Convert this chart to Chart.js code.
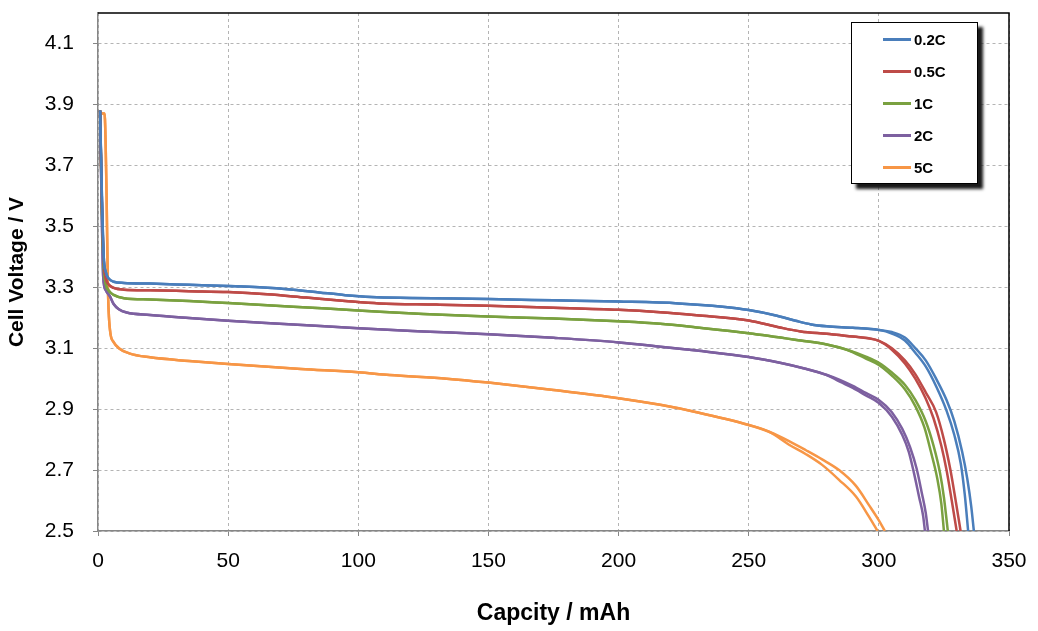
<!DOCTYPE html>
<html>
<head>
<meta charset="utf-8">
<script src="https://cdn.jsdelivr.net/npm/chart.js@4.4.1/dist/chart.umd.min.js"></script>
<style>
	body { margin: 0; background: #fff; }
	#wrap { position: relative; width: 1038px; height: 631px; }
	#legend {
		position: absolute; left: 851px; top: 22px; width: 125px; height: 160px;
		border: 1.5px solid #000; background: #fff;
		box-shadow: 5px 5px 3px #1a1a1a;
		font: bold 15px "Liberation Sans", Arial, sans-serif;
	}
	#legend .row { height: 32px; display: flex; align-items: center; }
	#legend .swatch { width: 28px; height: 3px; margin-left: 31px; margin-right: 3px; }
</style>
</head>
<body>
<div id="wrap">
	<canvas id="chart" width="1038" height="631"></canvas>
	<div id="legend"></div>
</div>
<script>
const rates = ['0.2C', '0.5C', '1C', '2C', '5C']
const colors = ['#4A7EBB', '#BE4B48', '#7AA140', '#7D60A0', '#F79646']
const yTicks = [2.5, 2.7, 2.9, 3.1, 3.3, 3.5, 3.7, 3.9, 4.1]

// common part of both cells, then the two tails (cell A / cell B)
const cap02 = [0.8, 1.5, 2.2, 3, 4, 6, 10, 20, 35, 50, 62, 75, 85, 95, 105, 120, 150, 175, 200, 223, 240, 250, 260, 268, 274, 280, 290, 300]
const volt02 = [3.88, 3.60, 3.40, 3.35, 3.33, 3.318, 3.314, 3.312, 3.308, 3.304, 3.300, 3.292, 3.283, 3.274, 3.268, 3.265, 3.261, 3.257, 3.253, 3.247, 3.236, 3.225, 3.208, 3.19, 3.178, 3.172, 3.167, 3.160]
const cap02a = [305, 310, 314, 318, 322, 326, 329, 332, 334, 335.5, 336.5]
const volt02a = [3.153, 3.135, 3.10, 3.06, 3.0, 2.93, 2.86, 2.76, 2.67, 2.58, 2.5]
const cap02b = [305, 310, 314, 318, 322, 326, 329, 331.5, 333, 334.3]
const volt02b = [3.148, 3.125, 3.085, 3.04, 2.975, 2.895, 2.815, 2.72, 2.62, 2.5]

const cap05 = [0.8, 1.5, 2.2, 3, 4, 6, 10, 20, 35, 50, 65, 80, 95, 108, 130, 150, 175, 200, 216, 230, 250, 262, 270, 280, 290, 300]
const volt05 = [3.88, 3.58, 3.39, 3.33, 3.31, 3.298, 3.292, 3.290, 3.287, 3.284, 3.277, 3.266, 3.255, 3.247, 3.243, 3.239, 3.233, 3.226, 3.218, 3.208, 3.191, 3.168, 3.155, 3.147, 3.138, 3.124]
const cap05a = [305, 310, 314, 318, 322, 325, 327.5, 329.5, 331.4]
const volt05a = [3.10, 3.06, 3.015, 2.955, 2.89, 2.80, 2.70, 2.60, 2.5]
const cap05b = [305, 310, 314, 318, 321, 324, 326, 328, 329.9]
const volt05b = [3.095, 3.05, 3.0, 2.935, 2.87, 2.78, 2.70, 2.60, 2.5]

const cap1 = [0.8, 1.5, 2.2, 3, 4, 6, 10, 20, 35, 50, 75, 100, 125, 150, 175, 200, 216, 230, 250, 270, 280, 288]
const volt1 = [3.88, 3.56, 3.37, 3.31, 3.29, 3.275, 3.264, 3.260, 3.255, 3.248, 3.236, 3.224, 3.212, 3.204, 3.197, 3.188, 3.180, 3.168, 3.149, 3.125, 3.112, 3.094]
const cap1a = [295, 300, 305, 310, 314, 318, 321, 323.5, 325, 326.5]
const volt1a = [3.072, 3.052, 3.02, 2.98, 2.93, 2.86, 2.78, 2.69, 2.61, 2.5]
const cap1b = [295, 300, 305, 310, 314, 317.5, 320, 322.5, 324, 325]
const volt1b = [3.066, 3.045, 3.01, 2.965, 2.91, 2.84, 2.76, 2.67, 2.59, 2.5]

const cap2 = [0.8, 1.5, 2, 3, 4.6, 6, 8, 11, 20, 35, 50, 75, 100, 125, 150, 175, 200, 216, 230, 250, 262, 271, 280]
const volt2 = [3.88, 3.52, 3.335, 3.29, 3.27, 3.245, 3.228, 3.217, 3.209, 3.199, 3.19, 3.178, 3.165, 3.155, 3.146, 3.134, 3.119, 3.105, 3.092, 3.071, 3.052, 3.034, 3.012]
const cap2a = [285, 290, 295, 300, 305, 309, 312, 314.5, 316.5, 318, 318.9]
const volt2a = [2.996, 2.976, 2.953, 2.93, 2.89, 2.835, 2.775, 2.705, 2.625, 2.56, 2.5]
const cap2b = [285, 290, 295, 300, 305, 309, 311.5, 313.5, 315.5, 317, 317.7]
const volt2b = [2.99, 2.97, 2.945, 2.92, 2.875, 2.815, 2.76, 2.69, 2.61, 2.55, 2.5]

const cap5 = [0.5, 2.5, 3.3, 3.8, 4.6, 6, 8, 12, 20, 35, 50, 78, 100, 112, 134, 150, 175, 200, 216, 230, 250, 258]
const volt5 = [3.87, 3.87, 3.60, 3.30, 3.16, 3.12, 3.10, 3.083, 3.07, 3.058, 3.048, 3.032, 3.021, 3.012, 3.0, 2.987, 2.963, 2.936, 2.914, 2.89, 2.848, 2.825]
const cap5a = [265.5, 272, 278.2, 284.7, 291.2, 296.2, 300, 302.3]
const volt5a = [2.795, 2.765, 2.735, 2.70, 2.648, 2.585, 2.535, 2.5]
const cap5b = [265.5, 272, 278.2, 284.7, 291.2, 296.2, 299.5]
const volt5b = [2.783, 2.752, 2.717, 2.668, 2.613, 2.547, 2.5]

const curves = [
	[cap02, volt02, cap02a, volt02a, cap02b, volt02b],
	[cap05, volt05, cap05a, volt05a, cap05b, volt05b],
	[cap1, volt1, cap1a, volt1a, cap1b, volt1b],
	[cap2, volt2, cap2a, volt2a, cap2b, volt2b],
	[cap5, volt5, cap5a, volt5a, cap5b, volt5b],
]

const toPoints = (xs, ys) => xs.map((x, i) => ({x, y: ys[i]}))

let datasets = []
curves.forEach(([c, v, ca, va, cb, vb], i) => {
	let head = toPoints(c, v)
	;[[ca, va], [cb, vb]].forEach(([tc, tv], k) => {
		datasets.push({
			label: rates[i],
			legend: k === 0,
			data: head.concat(toPoints(tc, tv)),
			borderColor: colors[i],
			borderWidth: 2.5,
			pointRadius: 0,
			fill: false,
			cubicInterpolationMode: 'monotone'
		})
	})
})

const font = '"Liberation Sans", Arial, sans-serif'

// black frame on top / right of the plot area
const frame = {
	id: 'frame',
	afterDraw(chart) {
		let {ctx, chartArea: a} = chart
		ctx.save()
		ctx.strokeStyle = '#000'
		ctx.lineWidth = 1.5
		ctx.beginPath()
		ctx.moveTo(a.left, a.top)
		ctx.lineTo(a.right, a.top)
		ctx.lineTo(a.right, a.bottom)
		ctx.stroke()
		ctx.restore()
	}
}

const chart = new Chart(document.getElementById('chart'), {
	type: 'line',
	data: { datasets },
	plugins: [frame],
	options: {
		responsive: false,
		animation: false,
		layout: { padding: { left: 0, top: 13, right: 29, bottom: 0 } },
		plugins: { legend: { display: false }, tooltip: { enabled: false } },
		scales: {
			x: {
				type: 'linear',
				min: 0, max: 350,
				ticks: { stepSize: 50, color: '#000', padding: 13, font: { family: font, size: 21 } },
				grid: { color: '#b4b4b4', tickLength: 5, tickColor: '#868686' },
				border: { color: '#868686', width: 1.5, dash: [3, 3] },
				title: { display: true, text: 'Capcity / mAh', color: '#000', padding: { top: 0, bottom: 4 }, font: { family: font, size: 23, weight: 'bold' } },
				afterFit: (s) => { s.height = 100; s.paddingLeft = 0; s.paddingRight = 0 }
			},
			y: {
				type: 'linear',
				min: 2.5, max: 4.2,
				afterBuildTicks: (s) => { s.ticks = yTicks.map(v => ({value: v})) },
				ticks: { color: '#000', padding: 19, font: { family: font, size: 21 }, callback: (v) => v.toFixed(1) },
				grid: { color: '#b4b4b4', tickLength: 5, tickColor: '#868686' },
				border: { color: '#868686', width: 1.5, dash: [3, 3] },
				title: { display: true, text: 'Cell Voltage / V', color: '#000', padding: { top: 5, bottom: 0 }, font: { family: font, size: 21, weight: 'bold' } },
				afterFit: (s) => { s.width = 98; s.paddingTop = 0; s.paddingBottom = 0 }
			}
		}
	}
})

let legend = document.getElementById('legend')
datasets.filter(d => d.legend).forEach(d => {
	let row = document.createElement('div')
	row.className = 'row'
	row.innerHTML = `<span class="swatch" style="background:${d.borderColor}"></span><span>${d.label}</span>`
	legend.appendChild(row)
})
</script>
</body>
</html>
